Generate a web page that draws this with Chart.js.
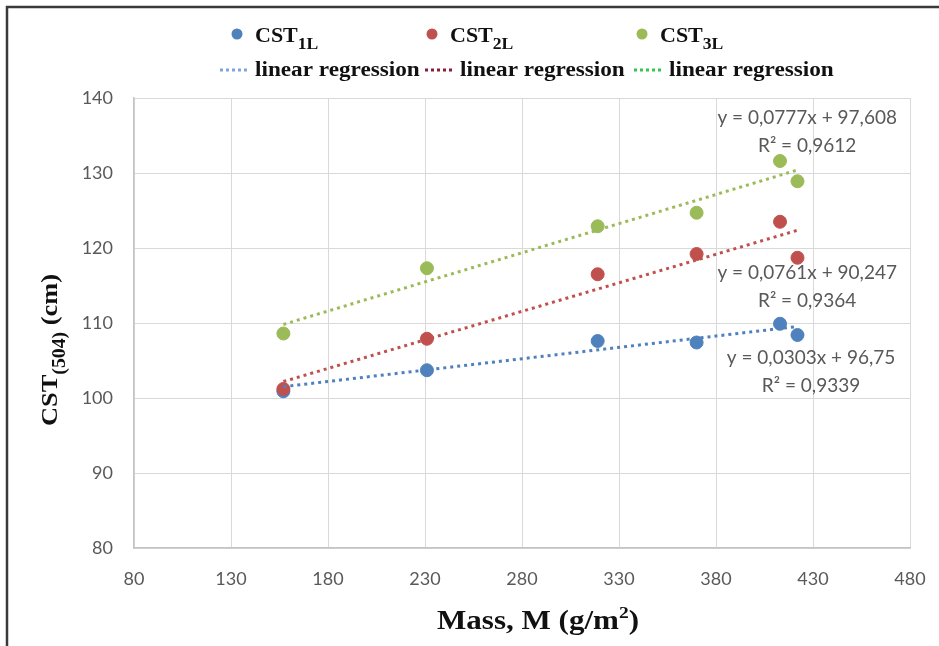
<!DOCTYPE html>
<html>
<head>
<meta charset="utf-8">
<script src="https://cdn.jsdelivr.net/npm/chart.js@4.4.1/dist/chart.umd.min.js"></script>
<style>
  html, body { margin: 0; padding: 0; background: #fff; }
  #wrap { width: 939px; height: 646px; }
</style>
</head>
<body>
<div id="wrap"><canvas id="myChart" width="939" height="646"></canvas></div>
<script>
// mass of the samples (g/m2)
const massValues = [157, 231, 319, 370, 413, 422];
// CST(504) in cm, one array per series
const cst1L = [100.9, 103.7, 107.6, 107.4, 109.9, 108.4];
const cst2L = [101.2, 107.9, 116.5, 119.2, 123.5, 118.7];
const cst3L = [108.6, 117.3, 122.9, 124.7, 131.6, 128.9];
const seriesNames = ['1L', '2L', '3L'];
// trendline equations as shown on the chart
const slopes = [0.0303, 0.0761, 0.0777];
const intercepts = [96.75, 90.247, 97.608];
const rSquared = [0.9339, 0.9364, 0.9612];
const xTicks = [80, 130, 180, 230, 280, 330, 380, 430, 480];
const yTicks = [80, 90, 100, 110, 120, 130, 140];

const colors = ['#4f81bd', '#c0504d', '#9bbb59'];
const legendDotColors = ['#7fa6dc', '#8e1c36', '#2fc84a'];
// where the equation boxes sit (data units)
const eqSpots = [{ x: 429, y: 105.3 }, { x: 427, y: 116.7 }, { x: 427, y: 137.3 }];

const allSeries = [cst1L, cst2L, cst3L];
const xMin = Math.min(...massValues);
const xMax = Math.max(...massValues);
const comma = v => String(v).replace('.', ',');

const datasets = [];
allSeries.forEach((vals, i) => {
    datasets.push({
        label: 'CST' + seriesNames[i],
        type: 'scatter',
        data: massValues.map((m, k) => ({ x: m, y: vals[k] })),
        backgroundColor: colors[i],
        borderColor: colors[i],
        pointRadius: 6.5,
        pointHoverRadius: 6.5,
        order: 3 - i
    });
});
allSeries.forEach((vals, i) => {
    datasets.push({
        label: 'linear regression',
        type: 'line',
        data: [xMin, xMax].map(m => ({ x: m, y: slopes[i] * m + intercepts[i] })),
        borderColor: colors[i],
        borderWidth: 3,
        borderDash: [3, 4],
        pointRadius: 0,
        fill: false,
        order: 0
    });
});

// draws a run of text pieces (for sub/superscripts)
function drawParts(ctx, parts, x, y, align, sx) {
    let w = 0;
    parts.forEach(p => { ctx.font = p[1]; w += ctx.measureText(p[0]).width; });
    ctx.save();
    ctx.translate(x, y);
    ctx.scale(sx, 1);
    let cx = align === 'center' ? -w / 2 : 0;
    ctx.textAlign = 'left';
    parts.forEach(p => {
        ctx.font = p[1];
        ctx.fillText(p[0], cx, p[2]);
        cx += ctx.measureText(p[0]).width;
    });
    ctx.restore();
}

const serif = '"Liberation Serif", "Times New Roman", serif';

const extras = {
    id: 'extras',
    afterDraw(chart) {
        const ctx = chart.ctx;
        const xs = chart.scales.x, ys = chart.scales.y;

        // frame
        ctx.save();
        ctx.strokeStyle = '#3a3a3a';
        ctx.lineWidth = 2.5;
        ctx.beginPath();
        ctx.moveTo(7, 646);
        ctx.lineTo(7, 7);
        ctx.lineTo(939, 7);
        ctx.stroke();
        ctx.restore();

        // legend
        const markX = [237, 432, 642];
        const lineX = [220, 425, 634];
        ctx.save();
        ctx.textBaseline = 'alphabetic';
        ctx.fillStyle = '#111';
        for (let i = 0; i < 3; i++) {
            ctx.fillStyle = colors[i];
            ctx.beginPath();
            ctx.arc(markX[i], 34, 5.5, 0, Math.PI * 2);
            ctx.fill();
            ctx.fillStyle = '#111';
            drawParts(ctx, [
                ['CST', 'bold 20px ' + serif, 0],
                [seriesNames[i], 'bold 16px ' + serif, 7]
            ], markX[i] + 18, 42, 'left', 1.1);

            ctx.strokeStyle = legendDotColors[i];
            ctx.lineWidth = 3;
            ctx.setLineDash([3, 3]);
            ctx.beginPath();
            ctx.moveTo(lineX[i], 70);
            ctx.lineTo(lineX[i] + 30, 70);
            ctx.stroke();
            ctx.setLineDash([]);
            drawParts(ctx, [['linear regression', 'bold 20px ' + serif, 0]],
                lineX[i] + 35, 76, 'left', 1.16);
        }
        ctx.restore();

        // axis titles
        ctx.save();
        ctx.fillStyle = '#111';
        ctx.textBaseline = 'alphabetic';
        drawParts(ctx, [
            ['Mass, M (g/m', 'bold 27px ' + serif, 0],
            ['2', 'bold 17px ' + serif, -11],
            [')', 'bold 27px ' + serif, 0]
        ], 538, 629, 'center', 1.15);
        ctx.translate(57, 350);
        ctx.rotate(-Math.PI / 2);
        drawParts(ctx, [
            ['CST', 'bold 24px ' + serif, 0],
            ['(504)', 'bold 18px ' + serif, 8],
            [' (cm)', 'bold 24px ' + serif, 0]
        ], 0, 0, 'center', 1.1);
        ctx.restore();

        // trendline equations
        ctx.save();
        ctx.fillStyle = '#595959';
        ctx.textAlign = 'center';
        ctx.textBaseline = 'middle';
        ctx.font = '19px Lato';
        for (let i = 0; i < 3; i++) {
            const px = xs.getPixelForValue(eqSpots[i].x);
            const py = ys.getPixelForValue(eqSpots[i].y);
            ctx.fillText('y = ' + comma(slopes[i]) + 'x + ' + comma(intercepts[i]), px, py);
            ctx.fillText('R\u00b2 = ' + comma(rSquared[i]), px, py + 28);
        }
        ctx.restore();
    }
};

new Chart(document.getElementById('myChart'), {
    type: 'scatter',
    data: { datasets: datasets },
    options: {
        responsive: false,
        animation: false,
        layout: { padding: { top: 98, right: 29, left: 0, bottom: 0 } },
        plugins: {
            legend: { display: false },
            tooltip: { enabled: false }
        },
        scales: {
            x: {
                type: 'linear',
                min: 80,
                max: 480,
                afterBuildTicks: s => { s.ticks = xTicks.map(v => ({ value: v })); },
                afterFit: s => { s.height = 98; s.paddingLeft = 0; s.paddingRight = 0; },
                grid: { color: '#d9d9d9', drawTicks: false },
                border: { color: '#c4c4c4', width: 1.5 },
                ticks: { color: '#595959', font: { family: 'Lato', size: 18 }, padding: 20 }
            },
            y: {
                min: 80,
                max: 140,
                afterBuildTicks: s => { s.ticks = yTicks.map(v => ({ value: v })); },
                afterFit: s => { s.width = 134; s.paddingTop = 0; s.paddingBottom = 0; },
                grid: { color: '#d9d9d9', drawTicks: false },
                border: { color: '#c4c4c4', width: 1.5 },
                ticks: { color: '#595959', font: { family: 'Lato', size: 18 }, padding: 21 }
            }
        }
    },
    plugins: [extras]
});
</script>
</body>
</html>
